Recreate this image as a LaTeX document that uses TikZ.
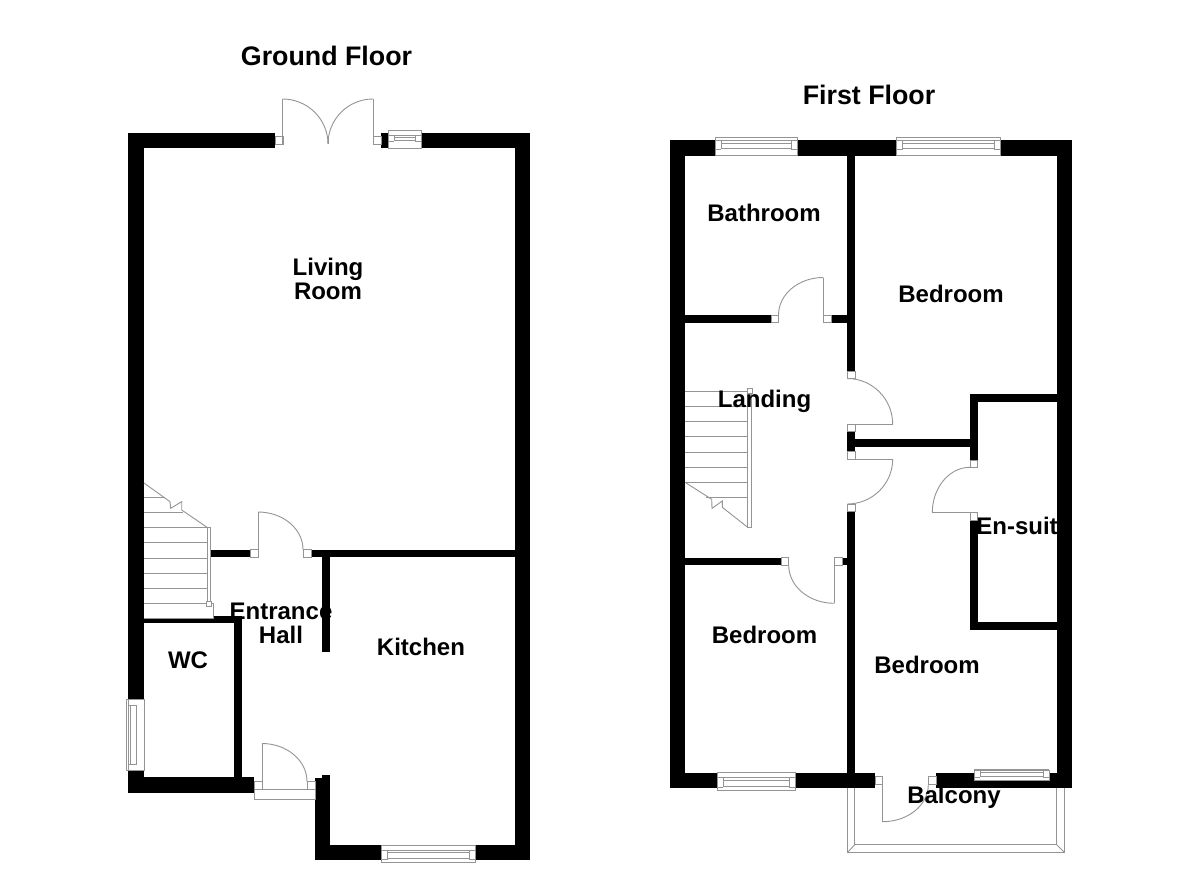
\documentclass[tikz,border=0pt]{standalone}
\usepackage{fontspec}
\setmainfont{Liberation Sans}
\usetikzlibrary{calc}
\tikzset{
  fine/.style={draw=black!42,line width=0.45pt},
  wallfill/.style={fill=black,draw=none},
  framebox/.style={fine,fill=white},
  lbl/.style={font=\fontsize{12}{12}\selectfont\bfseries,align=center,text=black,inner sep=0pt},
  ttl/.style={font=\fontsize{13.4}{14}\selectfont\bfseries,align=center,text=black,inner sep=0pt}
}
\newcommand{\wallr}[4]{\fill[wallfill] (#1,#2) rectangle (#3,#4);}
\newcommand{\jambr}[4]{\draw[framebox] (#1,#2) rectangle (#3,#4);}
% horizontal window: x1 x2 y1 y2 la lb
\newcommand{\hwin}[6]{%
  \draw[framebox] (#1,#3) rectangle (#2,#4);
  \draw[fine] ({#1+6},#5) -- ({#2-6},#5) ({#1+6},#6) -- ({#2-6},#6);
  \draw[fine] (#1,{#5-2.5}) -- (#2,{#5-2.5});
  \draw[fine] (#1,{#6+1}) -- ({#1+6},{#6+1}) (#2,{#6+1}) -- ({#2-6},{#6+1});
  \draw[fine] ({#1+6},{#5-2.5}) -- ({#1+6},{#6+1}) ({#2-6},{#5-2.5}) -- ({#2-6},{#6+1});}
% vertical window: y1 y2 x1 x2 la lb
\newcommand{\vwin}[6]{%
  \draw[framebox] (#3,#1) rectangle (#4,#2);
  \draw[fine] (#5,{#1+6}) -- (#5,{#2-6}) (#6,{#1+6}) -- (#6,{#2-6});
  \draw[fine] ({#5-2},#1) -- ({#5-2},#2);
  \draw[fine] ({#5-2},{#1+6}) -- ({#6+1},{#1+6}) ({#5-2},{#2-6}) -- ({#6+1},{#2-6});}
% door swing: start, corner, end
\newcommand{\swing}[3]{\draw[fine] (#1) .. controls ($(#1)!0.5523!(#2)$) and ($(#3)!0.5523!(#2)$) .. (#3);}
\begin{document}
\begin{tikzpicture}[x=0.5pt,y=-0.5pt]
\useasboundingbox (0,0) rectangle (1200,872);
\fill[white] (0,0) rectangle (1200,872);

%%% GROUND FLOOR: walls
\wallr{128}{133}{144}{793}
\wallr{128}{133}{275}{148}
\wallr{381}{133}{530}{148}
\wallr{515}{133}{530}{860}
\wallr{315}{845}{530}{860}
\wallr{315}{778}{330}{860}
\wallr{322}{775}{330}{780}
\wallr{128}{777}{254}{793}
\wallr{234}{616}{242}{780}
\wallr{144}{618}{242}{623}
\wallr{213}{616}{242}{623}
\wallr{211}{549.5}{250}{557}
\wallr{311}{549.5}{515}{557}
\wallr{322}{549.5}{330}{652}

% patio doors
\jambr{275}{136.5}{283}{144}
\jambr{373}{136.5}{381}{144}
\draw[fine] (282.5,144) -- (282.5,99);
\draw[fine] (373,144) -- (373,99);
\swing{282.5,99}{328,99}{328,144}
\swing{373,99}{328,99}{328,144}
\draw[fine] (328,138) -- (328,144);
\hwin{388}{421}{130}{148}{137.5}{140.5}

% hall door
\jambr{250}{549.5}{258}{557}
\jambr{303}{549.5}{311}{557}
\draw[fine] (258,557) -- (258,512);
\swing{258,512}{303,512}{303,549.5}

% front door
\draw[framebox] (254,789) rectangle (315,799);
\jambr{254}{781.5}{262}{789}
\jambr{307}{781.5}{315}{789}
\draw[fine] (262,789) -- (262,743.5);
\swing{262,743.5}{307,743.5}{307,781.5}

% windows
\hwin{381.5}{475}{845}{862}{852.5}{858}
\vwin{699.5}{770}{126}{144}{130.5}{136}

% stairs (ground)
\foreach \ty/\tx in {497.3/165,512.3/183,527.3/207,542.7/207,558/207,573.3/207,588.3/207}
  \draw[fine] (144,\ty) -- (\tx,\ty);
\draw[fine] (144,603.3) -- (213,603.3) -- (213,618) -- (144,618);
\draw[fine] (144,483) -- (170,501.7) -- (170.7,508.3) -- (181.7,501.7) -- (181.7,510) -- (207,527.3);
\draw[framebox] (207,527.3) rectangle (210.5,603);
\jambr{206}{601}{211}{606}

%%% FIRST FLOOR: walls
\wallr{669.5}{140}{685}{787.7}
\wallr{669.5}{140}{1072}{155.7}
\wallr{1056.7}{140}{1072}{787.7}
\wallr{669.5}{772.7}{875}{787.7}
\wallr{936}{772.7}{1072}{787.7}
\wallr{847.3}{155.7}{855}{371}
\wallr{685}{315}{771}{322.7}
\wallr{831}{315}{847.3}{322.7}
\wallr{847.3}{431.7}{855}{451.7}
\wallr{855}{439}{970}{446.7}
\wallr{847.3}{511.7}{855}{780}
\wallr{685}{557.7}{781}{565.3}
\wallr{842}{557.7}{847.3}{565.3}
\wallr{970}{394.3}{977.5}{460}
\wallr{970}{394.3}{1057}{402.3}
\wallr{970}{520}{977.5}{630}
\wallr{970}{622.3}{1057}{630}

% bathroom door
\jambr{771}{315}{778.5}{322.7}
\jambr{823.3}{315}{831}{322.7}
\draw[fine] (823.3,315) -- (823.3,277.5);
\swing{823.3,277.5}{778.5,277.5}{778.5,315}

% east doors
\jambr{847.3}{371}{855}{378.5}
\swing{847.3,378.5}{892.7,378.5}{892.7,424.3}
\draw[fine] (892.7,424.3) -- (847.3,424.3);
\jambr{847.3}{424.3}{855}{431.7}
\jambr{847.3}{451.7}{855}{459}
\draw[fine] (847.3,459) -- (892.7,459);
\swing{892.7,459}{892.7,504}{847.3,504}
\jambr{847.3}{504}{855}{511.7}

% front bedroom door
\jambr{781}{557.7}{788.7}{565.3}
\jambr{834.3}{557.7}{842}{565.3}
\draw[fine] (834.3,565.3) -- (834.3,603.3);
\swing{834.3,603.3}{788.7,603.3}{788.7,565.3}

% en-suite door
\jambr{970}{460}{977.5}{467.3}
\jambr{970}{512.7}{977.5}{520}
\draw[fine] (977.5,512.7) -- (932.3,512.7);
\swing{932.3,512.7}{932.3,467.3}{970,467.3}

% balcony door
\jambr{875}{776.7}{882.7}{784.7}
\jambr{928.3}{776.7}{936}{784.7}
\draw[fine] (882.7,784.7) -- (882.7,821.7);
\swing{882.7,821.7}{928.3,821.7}{928.3,784.7}

% balcony
\draw[fine] (847.3,787.7) -- (847.3,852.7) -- (1064.7,852.7) -- (1064.7,787.7);
\draw[fine] (854.7,787.7) -- (854.7,844.7) -- (1056.7,844.7) -- (1056.7,787.7);
\draw[fine] (847.3,852.7) -- (854.7,844.7) (1064.7,852.7) -- (1056.7,844.7);

% windows
\hwin{715.3}{797}{137.7}{155.7}{143}{148}
\hwin{896.7}{1000}{137.7}{155.7}{143}{148}
\hwin{717.3}{795}{772.7}{790.3}{780}{786}
\hwin{974.3}{1049.3}{770}{780}{772}{776}

% stairs (first)
\foreach \ty/\tx/\sx in {391/747.7/685,406.3/747.7/685,421.7/747.7/685,436.7/747.7/685,452/747.7/685,467.3/747.7/685,482.3/747.7/685,497.7/747.7/706}
  \draw[fine] (\sx,\ty) -- (\tx,\ty);
\draw[fine] (685,482.3) -- (711.7,499.3) -- (712,508.3) -- (722.3,501) -- (722.3,507.3) -- (747.7,527.3);
\draw[framebox] (747.7,391) rectangle (751.7,527.3);
\jambr{747}{388.3}{752}{393}

%%% Labels
\node[ttl] (tg) at (326.5,55.5) {Ground Floor};
\node[ttl] (tf) at (869,94.5) {First Floor};
\node[lbl] (living) at (328,278.5) {Living\\Room};
\node[lbl] (hall) at (281,623) {Entrance\\Hall};
\node[lbl] (kitchen) at (421,647) {Kitchen};
\node[lbl] (wc) at (188,660.5) {WC};
\node[lbl] (bath) at (764,213) {Bathroom};
\node[lbl] (bed1) at (951,294) {Bedroom};
\node[lbl] (landing) at (764.5,401) {Landing};
\node[lbl] (ensuite) at (1017,525.5) {En-suit};
\node[lbl] (bed2) at (764.5,635) {Bedroom};
\node[lbl] (bed3) at (927,665) {Bedroom};
\node[lbl] (balc) at (954,797) {Balcony};
\end{tikzpicture}
\end{document}
